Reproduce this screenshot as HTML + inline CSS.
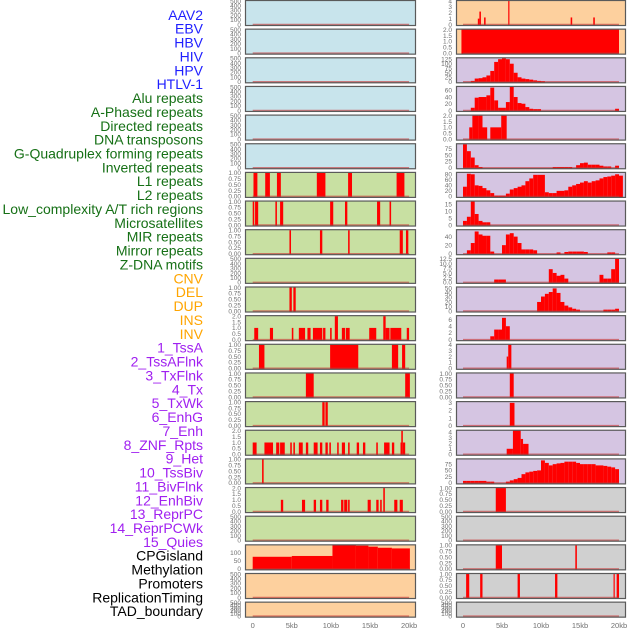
<!DOCTYPE html>
<html><head><meta charset="utf-8"><style>
html,body{margin:0;padding:0;background:#fff;}
svg{display:block;font-family:"Liberation Sans",sans-serif;}
</style></head><body>
<svg id="chart" width="630" height="630" viewBox="0 0 630 630" xmlns="http://www.w3.org/2000/svg">
<g id="labels"></g>
<g id="panelbg"></g>
<g id="bars"></g>
<g id="frames"></g>
<g id="yticks"></g>
<g id="xaxis"></g>
</svg>
<script>
const trackLabels = ["AAV2","EBV","HBV","HIV","HPV","HTLV-1","Alu repeats","A-Phased repeats","Directed repeats","DNA transposons","G-Quadruplex forming repeats","Inverted repeats","L1 repeats","L2 repeats","Low_complexity A/T rich regions","Microsatellites","MIR repeats","Mirror repeats","Z-DNA motifs","CNV","DEL","DUP","INS","INV","1_TssA","2_TssAFlnk","3_TxFlnk","4_Tx","5_TxWk","6_EnhG","7_Enh","8_ZNF_Rpts","9_Het","10_TssBiv","11_BivFlnk","12_EnhBiv","13_ReprPC","14_ReprPCWk","15_Quies","CPGisland","Methylation","Promoters","ReplicationTiming","TAD_boundary"];
const labelGroups = ["virus","virus","virus","virus","virus","virus","rep","rep","rep","rep","rep","rep","rep","rep","rep","rep","rep","rep","rep","sv","sv","sv","sv","sv","cs","cs","cs","cs","cs","cs","cs","cs","cs","cs","cs","cs","cs","cs","cs","oth","oth","oth","oth","oth"];
const groupColor = {virus:"#1f1fff",rep:"#167016",sv:"#ffa500",cs:"#a020f0",oth:"#000"};

const xTicks = [0,5,10,15,20];
const xTickLabels = ["0","5kb","10kb","15kb","20kb"];

const E = [0,100,200,300,400,500];
const U1 = [0,0.25,0.5,0.75,1];
const U2 = [0,0.5,1,1.5,2];

const leftBg = ["blue","blue","blue","blue","blue","blue","green","green","green","green","green","green","green","green","green","green","green","green","green","orange","orange","orange"];
const leftYMax = [500,500,500,500,500,500,1,1,1,500,1,2,1,1,1,2,1,2,500,146,500,500];
const leftTicks = [E,E,E,E,E,E,U1,U1,U1,E,U1,U2,U1,U1,U1,U2,U1,U2,E,[0,50,100],E,E];
const leftDec = [0,0,0,0,0,0,2,2,2,0,2,1,2,2,2,1,2,1,0,0,0,0];
const L6 = [[0.1,0.6,1],[1.6,2.2,1],[3.1,3.6,1],[8.2,9.3,1],[12.2,12.7,1],[18.4,19.4,1]];
const L7 = [[0,0.2,1],[0.3,0.7,1],[2.9,3.1,1],[3.5,3.9,1],[9.9,10.3,1],[11.8,12.1,1],[15.9,16.3,1],[17.5,17.7,1]];
const L8 = [[4.7,4.9,1],[8.6,8.9,1],[12.2,12.4,1],[18.8,19.2,1],[19.6,19.9,1]];
const L10 = [[4.7,5.0,1],[5.2,5.5,1]];
const L11 = [[0.2,0.7,1],[2.2,2.6,1],[5.0,5.2,1],[5.9,6.7,1],[7.0,7.4,1],[7.7,8.9,1],[9.0,9.3,1],[9.9,10.1,1],[10.5,10.9,2],[11.4,11.8,1],[11.9,12.4,1],[14.9,15.8,1],[16.7,17.0,2],[17.0,17.5,1],[17.6,19.0,1],[19.7,20.0,1]];
const L12 = [[0.8,1.5,1],[9.9,13.5,1],[17.8,18.6,1],[19.1,19.5,1]];
const L13 = [[6.8,7.8,1],[19.5,20.1,1]];
const L14 = [[8.9,9.2,1],[9.3,9.6,1]];
const L15 = [[0,0.5,1],[1.5,2.6,1],[3.0,3.4,1],[3.5,4.1,1],[4.8,5.0,1],[5.2,5.4,1],[5.9,6.4,1],[6.8,7.1,1],[7.8,8.3,1],[8.6,8.9,1],[9.3,9.6,1],[9.8,10.0,1],[10.8,11.0,1],[11.4,11.8,1],[12.2,12.4,1],[13.3,13.6,1],[14.1,14.4,1],[15.8,16.0,1],[16.8,17.5,1],[17.8,18.1,1],[18.9,19.0,1],[19.0,19.2,2],[19.2,19.5,1]];
const L16 = [[1.2,1.4,1]];
const L17 = [[3.6,3.9,1],[6.3,6.7,1],[7.8,8.1,1],[8.6,8.9,1],[9.4,9.7,1],[11.3,11.6,1],[11.7,12.1,1],[12.2,12.4,1],[14.7,15.1,1],[15.8,16.1,1],[16.3,16.5,1],[16.7,16.9,2],[18.1,18.5,1],[18.8,19.2,1]];
const L19 = [[0,5,75],[5,10.2,80],[10.2,13.2,160],[13.2,14.8,144],[14.8,16,138],[16,17.8,131],[17.8,20.1,127]];
const leftSpans = [[],[],[],[],[],[],L6,L7,L8,[],L10,L11,L12,L13,L14,L15,L16,L17,[],L19,[],[]];

const rightBg = ["orange","orange","purple","purple","purple","purple","purple","purple","purple","purple","purple","purple","purple","purple","purple","purple","purple","grey","grey","grey","grey","grey"];
const rightYMax = [4,2,130,70,2,92,85,17,55,12.5,52,7,4,1,3.1,4.3,94,1,500,1,1,500];
const rightTicks = [[0,1,2,3,4],U2,[0,25,50,75,100,125],[0,20,40,60],U2,[0,25,50,75],[0,20,40,60,80],[0,5,10,15],[0,20,40],[0,2.5,5,7.5,10,12.5],[0,10,20,30,40,50],[0,2,4,6],[0,1,2,3,4],U1,[0,1,2,3],[0,1,2,3,4],[0,25,50,75],U1,E,U1,U1,E];
const rightDec = [0,1,0,0,1,0,0,0,0,1,0,0,0,2,0,0,0,2,0,2,2,0];
const R0 = [[1.9,2.1,1],[2.1,2.3,2.2],[2.7,2.9,1.2],[5.8,5.95,4],[13.8,14.0,1.2],[16.7,16.9,1.2]];
const R1 = [[-0.2,20,2.2]];
const R2bins = [0,0,5,18,20,25,35,60,110,125,130,125,100,50,25,18,15,12,8,5,3,0,0,0,0,0,0,0,0,0,0,0,0,0,0,0,0,0,0,0,0];
const R3bins = [0,0,8,38,40,40,45,68,30,8,8,25,70,40,22,20,10,5,4,4,0,0,0,0,0,0,0,0,0,0,0,0,0,0,0,0,0,0,0,5,0];
const R4 = [[0.8,1.2,1],[1.2,2.0,2],[2.0,2.5,2],[2.5,3.1,1],[3.5,4.9,1],[4.9,5.6,2]];
const R5bins = [92,65,40,10,3,0,0,0,0,0,0,0,0,0,0,0,0,0,0,0,0,0,0,3,3,3,3,3,0,10,18,20,12,12,12,8,5,5,0,8,0];
const R6bins = [35,82,80,40,38,30,22,12,3,3,3,10,25,30,35,40,55,65,78,78,78,15,12,12,20,20,22,35,40,45,50,55,50,55,58,65,70,72,75,80,75];
const R7bins = [3,6,18,8,3,2,2,0,0,0,0,0,0,0,0,0,0,0,0,0,0,0,0,0,0,0,0,0,0,0,0,0,0,0,0,0,0,0,0,0,0];
const R8bins = [0,8,25,52,45,42,42,5,0,0,20,45,48,40,25,10,10,10,8,0,0,0,0,0,3,0,4,5,5,5,5,4,0,0,0,0,0,3,3,0,0];
const R9bins = [0,0,0,0,0,0,0,0,1.5,1.5,1.5,0,0,0,0,0,0,0,0,0,0,0,7,5,3.5,4,2,0,0,0,0,0,0,0,0,4,2,2,7,12.5,0];
const R10bins = [0,0,0,0,0,0,0,0,0,0,0,0,0,0,0,0,0,0,0,20,32,38,42,50,40,20,12,8,5,3,0,0,0,0,0,0,3,3,3,5,0];
const R11bins = [0,0,0,0,0,0,0,1,3,3,6.5,4,0,0,0,0,0,0,0,0,0,0,0,0,0,0,0,0,0,0,0,0,0,0,0,0,0,0,0,0,0];
const R12 = [[5.6,5.8,2],[5.8,6.2,4]];
const R13 = [[6.0,6.5,1]];
const R14 = [[6.0,6.6,3]];
const R15 = [[5.6,6.4,1],[6.4,7.4,5],[7.4,7.7,2.8],[7.7,8.4,1.9]];
const R16bins = [8,8,8,8,8,8,5,5,0,0,0,5,10,15,20,35,42,45,48,50,90,80,70,75,78,80,85,85,85,80,75,75,75,75,70,70,68,65,62,55,0];
const R17 = [[4.2,5.5,1]];
const R19 = [[4.2,5.0,1],[14.4,14.6,1]];
const R20 = [[0.4,0.8,1],[2.2,2.5,1],[7.0,7.3,1],[11.8,12.1,1],[19.3,19.4,1],[19.7,20.0,1]];

const BIN = 0.5;
function binsToSpans(b){ var out=[]; for(var k=0;k<b.length;k++){ if(b[k]>0) out.push([k*BIN,(k+1)*BIN,b[k]]); } return out; }
const rightSpans = [R0,R1,binsToSpans(R2bins),binsToSpans(R3bins),R4,binsToSpans(R5bins),binsToSpans(R6bins),binsToSpans(R7bins),binsToSpans(R8bins),binsToSpans(R9bins),binsToSpans(R10bins),binsToSpans(R11bins),R12,R13,R14,R15,binsToSpans(R16bins),R17,[],R19,R20,[]];

const bgColors = {blue:"#c8e4ec",green:"#c8e0a2",orange:"#fdd09e",purple:"#d5c5e2",grey:"#d0d0d0"};
const NS = "http://www.w3.org/2000/svg";
function mk(tag, attrs, parent){ var e=document.createElementNS(NS,tag); for(var k in attrs) e.setAttribute(k,String(attrs[k])); parent.appendChild(e); return e; }

function rowTop(i){ return i*28.65+0.5; }
function rowH(i){ return i===21?15:25; }

function drawAll(){
  var lg = document.getElementById("labels");
  for (var li=0; li<trackLabels.length; li++){
    var lel = mk("text",{x:203,y:(19.8+li*13.87).toFixed(2),"text-anchor":"end","font-size":14,fill:groupColor[labelGroups[li]]},lg);
    lel.textContent = trackLabels[li];
    
    
  }
  var gBg = document.getElementById("panelbg");
  var gBars = document.getElementById("bars");
  var gFr = document.getElementById("frames");
  var gTk = document.getElementById("yticks");
  var gX = document.getElementById("xaxis");
  var columns = [
    {x0:245, x1:416, zeroX:252.7, pxPerKb:7.82, bg:leftBg, ymax:leftYMax, ticks:leftTicks, dec:leftDec, spans:leftSpans, name:"left"},
    {x0:456, x1:626, zeroX:463, pxPerKb:7.8, bg:rightBg, ymax:rightYMax, ticks:rightTicks, dec:rightDec, spans:rightSpans, name:"right"}
  ];
  for (var c=0; c<columns.length; c++){
    var col = columns[c];
    for (var i=0;i<22;i++){
      var pTop=rowTop(i), h=rowH(i), bot=pTop+h;
      var yMaxV=col.ymax[i];
      var bg = mk("rect",{x:col.x0,y:pTop.toFixed(2),width:col.x1-col.x0,height:h,fill:bgColors[col.bg[i]]},gBg);
      
      
      var sp = col.spans[i];
      for (var s=0; s<sp.length; s++){
        var v = sp[s][2];
        var y = bot - 1 - (v/yMaxV)*(h-1.5);
        if (y < pTop) y = pTop;
        var x1 = col.zeroX + sp[s][0]*col.pxPerKb;
        var x2 = col.zeroX + sp[s][1]*col.pxPerKb;
        if (x1 < col.x0) x1 = col.x0;
        if (x2 > col.x1) x2 = col.x1;
        var w = Math.max(1.2, x2-x1);
        var r = mk("rect",{x:x1.toFixed(2),y:y.toFixed(2),width:w.toFixed(2),height:(bot-y).toFixed(2),fill:"#ff0000"},gBars);
        
        
      }
      var base = mk("line",{x1:col.zeroX,x2:(col.zeroX+20*col.pxPerKb).toFixed(2),y1:(bot-1).toFixed(2),y2:(bot-1).toFixed(2),stroke:"#c83232","stroke-opacity":0.6,"stroke-width":1.5},gFr);
      
      
      var fr = mk("rect",{x:col.x0+0.5,y:pTop.toFixed(2),width:col.x1-col.x0-1,height:h,fill:"none",stroke:"#5a5a5a","stroke-width":1.2},gFr);
      
      
      var tk = col.ticks[i];
      for (var t=0; t<tk.length; t++){
        var ty = bot - 1 - (tk[t]/yMaxV)*(h-1.5);
        var tx = mk("text",{x:col.x0-4,y:(ty+2.3).toFixed(2),"text-anchor":"end","font-size":6.5,fill:"#707070"},gTk);
        tx.textContent = tk[t].toFixed(col.dec[i]);
        
        
      }
    }
    for (var k=0;k<xTicks.length;k++){
      var xel = mk("text",{x:(col.zeroX+xTicks[k]*col.pxPerKb).toFixed(2),y:628,"text-anchor":"middle","font-size":7.5,fill:"#707070"},gX);
      xel.textContent = xTickLabels[k];
      
      
    }
  }
}
drawAll();
</script>
</body></html>
